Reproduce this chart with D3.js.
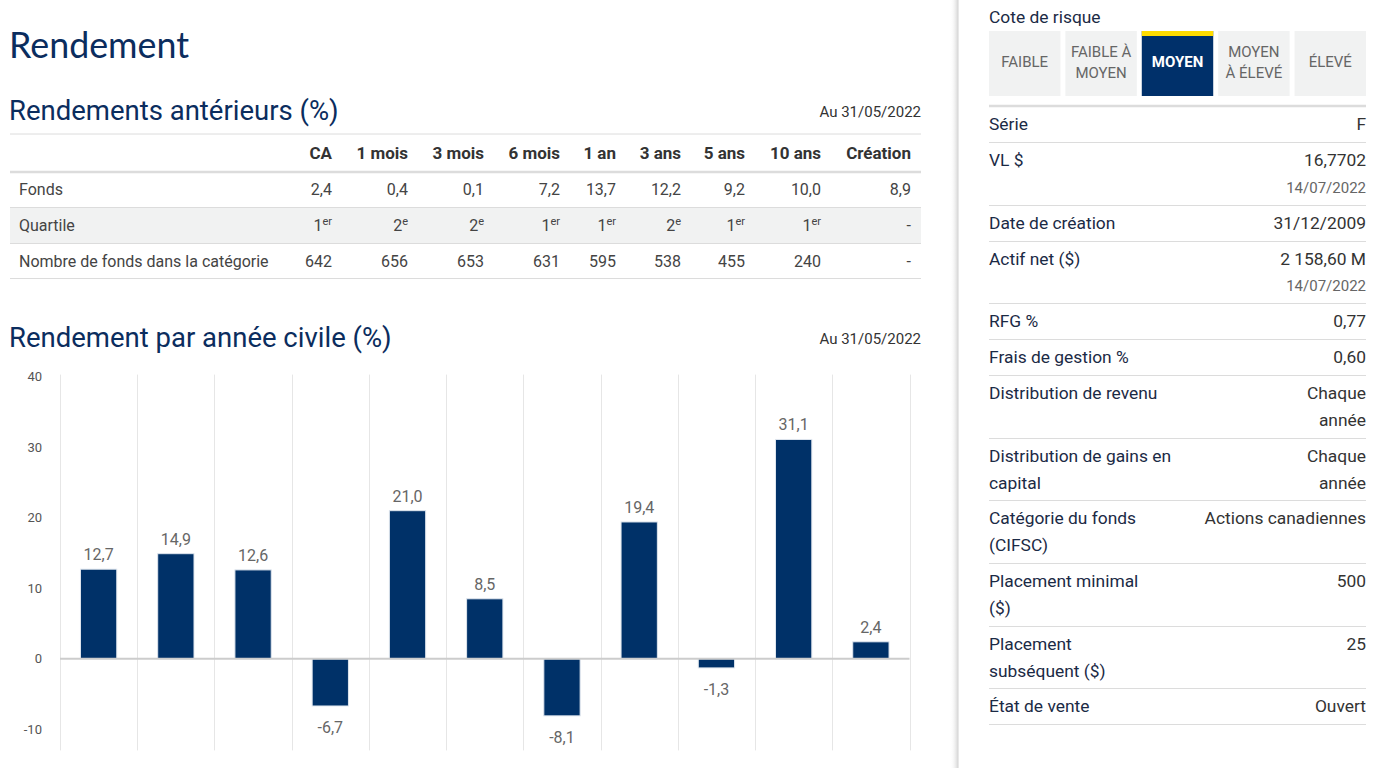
<!DOCTYPE html>
<html><head><meta charset="utf-8">
<script src="https://cdn.jsdelivr.net/npm/d3@7"></script>
<style>
html,body{margin:0;padding:0;background:#fff;overflow:hidden}
svg{display:block;font-family:Roboto,"Noto Sans",sans-serif}
</style></head><body>
<svg id="page" width="1384" height="768"></svg>
<script>
// ---------- DATA ----------
const periodHeaders = ["CA","1 mois","3 mois","6 mois","1 an","3 ans","5 ans","10 ans","Création"];
const fundReturns = ["2,4","0,4","0,1","7,2","13,7","12,2","9,2","10,0","8,9"];
const quartiles = [["1","er"],["2","e"],["2","e"],["1","er"],["1","er"],["2","e"],["1","er"],["1","er"],["-",""]];
const fundCounts = ["642","656","653","631","595","538","455","240","-"];
const rowLabels = ["Fonds","Quartile","Nombre de fonds dans la catégorie"];

const calendarCategories = ["2012","2013","2014","2015","2016","2017","2018","2019","2020","2021","CA"];
const calendarReturns = [12.7,14.9,12.6,-6.7,21.0,8.5,-8.1,19.4,-1.3,31.1,2.4];
const yTicks = [-10,0,10,20,30,40];

const riskLevels = ["FAIBLE","FAIBLE À\nMOYEN","MOYEN","MOYEN\nÀ ÉLEVÉ","ÉLEVÉ"];
const riskSelected = "MOYEN";

const infoLabels = ["Série","VL $","Date de création","Actif net ($)","RFG %","Frais de gestion %","Distribution de revenu","Distribution de gains en\ncapital","Catégorie du fonds\n(CIFSC)","Placement minimal\n($)","Placement\nsubséquent ($)","État de vente"];
const infoValues = ["F","16,7702","31/12/2009","2 158,60 M","0,77","0,60","Chaque\nannée","Chaque\nannée","Actions canadiennes","500","25","Ouvert"];
const infoDates = ["","14/07/2022","","14/07/2022","","","","","","","",""];
const asOfDate = "Au 31/05/2022";

// ---------- LAYOUT ----------
const svg = d3.select("#page");
const NAVY = "#0b2d5e", TEXT = "#444", BAR = "#003168";

svg.append("text").attr("x",9).attr("y",58).attr("fill",NAVY)
  .style("font-family","Lato,'Open Sans',sans-serif").style("font-size","35.8px").text("Rendement");

function heading(txt, y){
  svg.append("text").attr("x",9).attr("y",y).attr("fill",NAVY).style("font-size","27.5px").text(txt);
}
heading("Rendements antérieurs (%)",120);
heading("Rendement par année civile (%)",347);
[117,344].forEach(y=>svg.append("text").attr("x",921).attr("y",y).attr("text-anchor","end")
  .attr("fill","#333").style("font-size","15px").text(asOfDate));

// table
const colRight = [332,408,484,560,616,681,745,821,911];
const tbl = svg.append("g");
tbl.append("rect").attr("x",10).attr("y",208).attr("width",911).attr("height",35).attr("fill","#f1f2f2");
[[134,1],[172,2.5],[207.5,1],[243.5,1],[278.5,1]].forEach(([y,w])=>
  tbl.append("line").attr("x1",10).attr("x2",921).attr("y1",y).attr("y2",y).attr("stroke","#dcdcdc").attr("stroke-width",w));
periodHeaders.forEach((h,i)=>tbl.append("text").attr("x",colRight[i]).attr("y",159).attr("text-anchor","end")
  .attr("fill","#333").style("font-size","17px").style("font-weight","bold").text(h));
const rowY = [195,231,267];
rowLabels.forEach((l,i)=>tbl.append("text").attr("x",19).attr("y",rowY[i]).attr("fill",TEXT).style("font-size","16px").text(l));
fundReturns.forEach((v,i)=>tbl.append("text").attr("x",colRight[i]).attr("y",rowY[0]).attr("text-anchor","end").attr("fill",TEXT).style("font-size","16px").text(v));
fundCounts.forEach((v,i)=>tbl.append("text").attr("x",colRight[i]).attr("y",rowY[2]).attr("text-anchor","end").attr("fill",TEXT).style("font-size","16px").text(v));
quartiles.forEach((q,i)=>{
  const t = tbl.append("text").attr("x",colRight[i]).attr("y",rowY[1]).attr("text-anchor","end").attr("fill",TEXT).style("font-size","16px");
  t.append("tspan").text(q[0]);
  if(q[1]) t.append("tspan").attr("dy",-6).style("font-size","11px").text(q[1]);
});

// ---------- BAR CHART ----------
const x = d3.scaleBand().domain(calendarCategories).range([60,909.5]).padding(0);
const y = d3.scaleLinear().domain([-13,40.3]).range([750.4,374.6]);
const chart = svg.append("g");
const gridX = calendarCategories.map(c=>x(c)).concat([x.range()[1]]);
chart.selectAll("line.grid").data(gridX).join("line").attr("class","grid")
  .attr("x1",d=>Math.round(d)+0.5).attr("x2",d=>Math.round(d)+0.5).attr("y1",y(40.3)).attr("y2",y(-13))
  .attr("stroke","#e6e6e6").attr("stroke-width",1);
const yAxis = d3.axisLeft(y).tickValues(yTicks).tickSize(0).tickPadding(0).tickFormat(d=>String(d));
const ya = chart.append("g").attr("transform","translate(42,0)").call(yAxis);
ya.select(".domain").remove();
ya.selectAll("text").attr("fill","#555").style("font-size","13px").style("font-family","Roboto,sans-serif");
const bw = x.bandwidth()*0.47;
chart.selectAll("rect.bar").data(calendarReturns).join("rect").attr("class","bar")
  .attr("x",(d,i)=>x(calendarCategories[i])+(x.bandwidth()-bw)/2)
  .attr("width",bw)
  .attr("y",d=>y(Math.max(0,d)))
  .attr("height",d=>Math.abs(y(d)-y(0)))
  .attr("fill",BAR).attr("stroke","#dfe6ee").attr("stroke-width",1);
chart.append("line").attr("x1",60).attr("x2",909.5).attr("y1",y(0)).attr("y2",y(0))
  .attr("stroke","#cccccc").attr("stroke-width",2);
chart.selectAll("text.val").data(calendarReturns).join("text").attr("class","val")
  .attr("x",(d,i)=>x(calendarCategories[i])+x.bandwidth()/2)
  .attr("y",d=>d>=0 ? y(d)-9 : y(d)+27)
  .attr("text-anchor","middle").attr("fill","#666").style("font-size","16px")
  .text(d=>d.toFixed(1).replace(".",","));

// ---------- SIDEBAR ----------
const defs = svg.append("defs");
const grad = defs.append("linearGradient").attr("id","sh").attr("x1","0").attr("x2","1");
grad.append("stop").attr("offset","0").attr("stop-color","#fff").attr("stop-opacity",0);
grad.append("stop").attr("offset","1").attr("stop-color","#d6d6d6").attr("stop-opacity",1);
svg.append("rect").attr("x",950).attr("y",0).attr("width",8).attr("height",768).attr("fill","url(#sh)");
svg.append("line").attr("x1",958.5).attr("x2",958.5).attr("y1",0).attr("y2",768).attr("stroke","#e8e8e8");

const SIDE = "#1b2a45";
const SFS = "17.4px";
svg.append("text").attr("x",989).attr("y",23).attr("fill",SIDE).style("font-size",SFS).text("Cote de risque");
const bx = d3.scaleBand().domain(riskLevels).range([989,1366]).paddingInner(0.065).paddingOuter(0);
riskLevels.forEach(r=>{
  const sel = r===riskSelected;
  const bwid = bx.bandwidth();
  svg.append("rect").attr("x",bx(r)).attr("y",31).attr("width",bwid).attr("height",65)
    .attr("fill",sel?"#00306a":"#f1f2f2");
  if(sel) svg.append("rect").attr("x",bx(r)).attr("y",31).attr("width",bwid).attr("height",5).attr("fill","#ffdc00");
  const lines = r.split("\n");
  const t = svg.append("text").attr("text-anchor","middle").attr("fill",sel?"#fff":"#666")
    .style("font-size","15px").style("font-weight",sel?"bold":"normal");
  lines.forEach((l,k)=>t.append("tspan").attr("x",bx(r)+bwid/2)
    .attr("y", lines.length===1 ? 67 : 57+k*21).text(l));
});
svg.append("line").attr("x1",989).attr("x2",1366).attr("y1",106).attr("y2",106).attr("stroke","#dcdcdc").attr("stroke-width",2.5);

let cy = 106;
const LH = 27;
infoLabels.forEach((lab,i)=>{
  const labLines = lab.split("\n");
  const valLines = infoValues[i].split("\n");
  const nLines = Math.max(labLines.length, valLines.length + (infoDates[i]?1:0));
  const base = cy + 24;
  labLines.forEach((l,k)=>svg.append("text").attr("x",989).attr("y",base+k*LH).attr("fill",SIDE).style("font-size",SFS).text(l));
  valLines.forEach((l,k)=>svg.append("text").attr("x",1366).attr("y",base+k*LH).attr("text-anchor","end").attr("fill","#333").style("font-size",SFS).text(l));
  if(infoDates[i]) svg.append("text").attr("x",1366).attr("y",base+valLines.length*LH-0.5).attr("text-anchor","end").attr("fill","#666").style("font-size","15px").text(infoDates[i]);
  cy += 36 + (nLines-1)*26.6;
  svg.append("line").attr("x1",989).attr("x2",1366).attr("y1",Math.round(cy)+0.5).attr("y2",Math.round(cy)+0.5).attr("stroke","#dcdcdc");
});
</script>
</body></html>
